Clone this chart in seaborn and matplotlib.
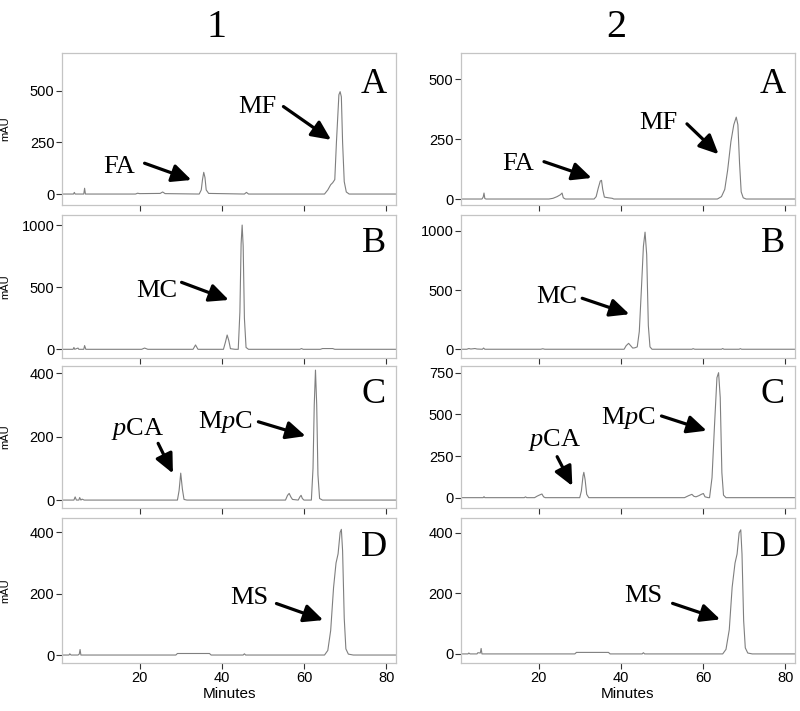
import pandas as pd
import matplotlib.pyplot as plt
import seaborn as sns

# retention time (min) / absorbance (mAU) points
# column 1
t_1a = [1.2, 3.9, 4.1, 4.3, 6.4, 6.6, 6.8, 19.0, 19.5, 20.0, 25.0, 25.6, 26.2,
        34.5, 35.0, 35.3, 35.6, 35.9, 36.2, 36.8, 45.5, 46.0, 46.5,
        65.0, 65.8, 66.5, 67.0, 67.5, 67.9, 68.5, 68.8, 69.1, 69.4, 69.8, 70.3, 71.0, 82.5]
mau_1a = [0, 0, 8, 0, 0, 28, 0, 0, 4, 2, 3, 10, 2,
          0, 20, 70, 105, 80, 20, 3, 0, 8, 0,
          0, 20, 45, 55, 70, 250, 480, 495, 470, 250, 60, 10, 0, 0]

t_1b = [1.2, 3.8, 4.0, 4.2, 5.0, 5.2, 6.4, 6.6, 6.9, 20.5, 21.2, 22.0,
        33.0, 33.6, 34.2, 40.4, 40.9, 41.3, 41.7, 42.1, 43.2,
        44.0, 44.4, 44.7, 44.95, 45.2, 45.5, 45.9, 46.5,
        59.0, 59.4, 59.8, 64.0, 64.5, 67.0, 67.5, 82.5]
mau_1b = [0, 0, 15, 0, 10, 0, 0, 30, 0, 0, 10, 0,
          0, 35, 0, 0, 60, 115, 70, 5, 0,
          0, 300, 850, 1000, 830, 250, 15, 0,
          0, 6, 0, 0, 6, 6, 0, 0]

t_1c = [1.2, 4.0, 4.3, 4.6, 5.2, 5.4, 5.7, 6.0, 6.5,
        29.2, 29.6, 30.0, 30.4, 30.8, 31.5,
        55.5, 56.0, 56.4, 56.8, 57.2, 58.6, 59.0, 59.3, 59.6, 60.0, 61.5,
        61.8, 62.2, 62.5, 62.8, 63.1, 63.4, 63.8, 64.5, 82.5]
mau_1c = [0, 0, 10, 0, 0, 8, 0, 3, 0,
          0, 30, 85, 35, 2, 0,
          0, 15, 21, 10, 2, 0, 10, 15, 5, 0, 0,
          0, 100, 300, 410, 300, 80, 5, 0, 0]

t_1d = [1.2, 2.8, 3.0, 3.3, 5.0, 5.3, 5.5, 5.7, 28.8, 29.2, 37.0, 37.4, 45.2, 45.5, 45.8,
        65.0, 65.8, 66.5, 67.2, 67.8, 68.3, 68.8, 69.1, 69.4, 69.8, 70.2, 70.8, 72.0, 82.5]
mau_1d = [0, 0, 4, 0, 0, 3, 18, 0, 0, 5, 5, 0, 0, 4, 0,
          0, 15, 80, 220, 300, 330, 400, 410, 340, 120, 20, 3, 0, 0]

# column 2
t_2a = [1.2, 6.2, 6.5, 6.7, 6.9, 7.2, 22.5, 23.5, 24.5, 25.3, 25.7, 26.0, 26.5,
        33.5, 34.0, 34.5, 35.0, 35.3, 35.6, 36.0, 37.0, 37.9, 38.3,
        63.5, 64.5, 65.3, 66.0, 66.8, 67.5, 68.1, 68.5, 68.9, 69.3, 69.8, 70.5, 82.5]
mau_2a = [0, 0, 8, 25, 2, 0, 0, 3, 10, 18, 25, 5, 0,
          0, 10, 45, 75, 78, 40, 8, 5, 3, 0,
          0, 10, 40, 120, 240, 310, 342, 310, 150, 30, 5, 0, 0]

t_2b = [1.2, 2.5, 3.0, 3.5, 4.5, 5.0, 6.3, 6.6, 6.9, 20.5, 21.0, 21.5,
        40.8, 41.3, 41.9, 42.4, 42.9, 43.4, 44.0, 44.5, 45.0, 45.5, 45.9, 46.3, 46.7, 47.1, 47.6,
        57.3, 57.6, 58.0, 64.5, 64.8, 65.1, 68.8, 69.1, 69.4, 82.5]
mau_2b = [0, 0, 6, 2, 6, 2, 0, 10, 0, 0, 4, 0,
          0, 30, 50, 30, 10, 12, 20, 150, 500, 870, 990, 800, 200, 20, 0,
          0, 5, 0, 0, 6, 0, 0, 5, 0, 0]

t_2c = [1.2, 6.5, 6.7, 6.9, 16.5, 16.8, 17.1, 19.0, 19.7, 20.4, 20.8, 21.2, 21.6,
        30.0, 30.4, 30.8, 31.0, 31.3, 31.7, 32.2,
        55.5, 56.5, 57.3, 57.8, 58.3, 59.0, 59.6, 60.1, 60.5, 61.3,
        61.6, 62.2, 62.8, 63.4, 63.8, 64.2, 64.6, 65.0, 65.6, 82.5]
mau_2c = [0, 0, 6, 0, 0, 5, 0, 0, 10, 18, 22, 5, 0,
          0, 40, 130, 152, 110, 20, 0,
          0, 12, 20, 8, 5, 12, 20, 25, 5, 0,
          0, 120, 430, 720, 750, 600, 150, 15, 0, 0]

t_2d = [1.2, 2.8, 3.0, 3.3, 5.0, 5.2, 5.8, 6.0, 6.2, 28.8, 29.2, 37.0, 37.4, 45.2, 45.5, 45.8,
        64.8, 65.6, 66.4, 67.1, 67.8, 68.3, 68.8, 69.2, 69.5, 69.9, 70.3, 70.9, 72.0, 82.5]
mau_2d = [0, 0, 3, 0, 0, 4, 3, 18, 0, 0, 5, 5, 0, 0, 4, 0,
          0, 15, 80, 220, 300, 330, 400, 410, 330, 110, 20, 3, 0, 0]

columns = ["1", "2"]
rows = ["A", "B", "C", "D"]
traces = {
    ("1", "A"): (t_1a, mau_1a), ("1", "B"): (t_1b, mau_1b),
    ("1", "C"): (t_1c, mau_1c), ("1", "D"): (t_1d, mau_1d),
    ("2", "A"): (t_2a, mau_2a), ("2", "B"): (t_2b, mau_2b),
    ("2", "C"): (t_2c, mau_2c), ("2", "D"): (t_2d, mau_2d),
}
yticks = {
    ("1", "A"): [0, 250, 500], ("1", "B"): [0, 500, 1000],
    ("1", "C"): [0, 200, 400], ("1", "D"): [0, 200, 400],
    ("2", "A"): [0, 250, 500], ("2", "B"): [0, 500, 1000],
    ("2", "C"): [0, 250, 500, 750], ("2", "D"): [0, 200, 400],
}
ylims = {
    ("1", "A"): (-53, 682), ("1", "B"): (-70, 1081),
    ("1", "C"): (-25, 423), ("1", "D"): (-26, 447),
    ("2", "A"): (-25, 610), ("2", "B"): (-74, 1135),
    ("2", "C"): (-62, 790), ("2", "D"): (-30, 449),
}
# compound labels: text, text pos, arrow tail, arrow head (data coords)
labels = {
    ("1", "A"): [("FA", (14.9, 100), (21.2, 149), (32.6, 68)),
                 ("MF", (48.7, 391), (55.0, 423), (66.6, 262))],
    ("1", "B"): [("MC", (24.1, 423), (30.2, 539), (41.7, 397))],
    ("1", "C"): [("$p$CA", (19.6, 205), (24.5, 179), (28.1, 84)),
                 ("M$p$C", (40.9, 226), (48.9, 247), (60.4, 202))],
    ("1", "D"): [("MS", (46.8, 168), (53.3, 168), (64.7, 114))],
    ("2", "A"): [("FA", (15.0, 123), (21.3, 156), (32.9, 88)),
                 ("MF", (49.2, 292), (56.1, 314), (63.8, 187))],
    ("2", "B"): [("MC", (24.5, 389), (30.6, 431), (42.1, 296))],
    ("2", "C"): [("$p$CA", (23.9, 310), (24.5, 246), (28.2, 70)),
                 ("M$p$C", (41.9, 442), (49.9, 490), (60.9, 402))],
    ("2", "D"): [("MS", (45.4, 173), (52.6, 167), (64.2, 114))],
}

sns.set_style("ticks")
plt.rcParams["font.family"] = ["Liberation Sans", "DejaVu Sans"]
plt.rcParams["mathtext.fontset"] = "custom"
plt.rcParams["mathtext.rm"] = "Liberation Serif"
plt.rcParams["mathtext.it"] = "Liberation Serif:italic"
plt.rcParams["text.color"] = "black"
plt.rcParams["axes.labelcolor"] = "black"
plt.rcParams["xtick.labelcolor"] = "black"
plt.rcParams["ytick.labelcolor"] = "black"

W, H = 800, 711
fig = plt.figure(figsize=(W / 100, H / 100), dpi=100)

col_x = {"1": (62, 396), "2": (461, 795)}
row_y = {"A": (53, 205), "B": (215, 358), "C": (366, 508), "D": (518, 663)}
serif = "Liberation Serif"

for col in columns:
    x0, x1 = col_x[col]
    fig.text((x0 + x1) / 2 / W - 12 / W, 1 - 37 / H, col, ha="center",
             va="baseline", fontsize=29, family=serif)
    for row in rows:
        y0, y1 = row_y[row]
        ax = fig.add_axes([x0 / W, 1 - y1 / H, (x1 - x0) / W, (y1 - y0) / H])
        t, v = traces[(col, row)]
        df = pd.DataFrame({"Minutes": t, "mAU": v})
        sns.lineplot(data=df, x="Minutes", y="mAU", ax=ax, color="#7f7f7f",
                     lw=0.8, estimator=None, sort=False)
        ax.set_xlim(1.1, 82.4)
        ax.set_ylim(*ylims[(col, row)])
        ax.set_xticks([20, 40, 60, 80])
        ax.set_yticks(yticks[(col, row)])
        for s in ax.spines.values():
            s.set_color("#c4c4c4")
            s.set_linewidth(0.9)
        ax.tick_params(direction="out", length=4, width=0.8, color="#333333",
                       labelsize=10.5, pad=1.5)
        if row == "D":
            ax.set_xlabel("Minutes", fontsize=11, labelpad=2)
        else:
            ax.set_xlabel("")
            ax.tick_params(axis="x", labelbottom=False)
        if col == "1":
            ax.set_ylabel("mAU", fontsize=8)
            ax.yaxis.set_label_coords(-0.156, 0.5)
        else:
            ax.set_ylabel("")
        ax.text(0.933, 0.74, row, transform=ax.transAxes, ha="center",
                va="baseline", fontsize=26, family=serif)
        for name, txt, tail, head in labels[(col, row)]:
            ax.text(txt[0], txt[1], name, ha="center", va="baseline",
                    fontsize=19, family=serif)
            ax.annotate("", xy=head, xytext=tail,
                        arrowprops=dict(arrowstyle="-|>,head_length=0.9,head_width=0.42",
                                        lw=2.3, color="black", mutation_scale=13,
                                        shrinkA=0, shrinkB=0))

fig.savefig("out.png", dpi=100)
plt.close(fig)
